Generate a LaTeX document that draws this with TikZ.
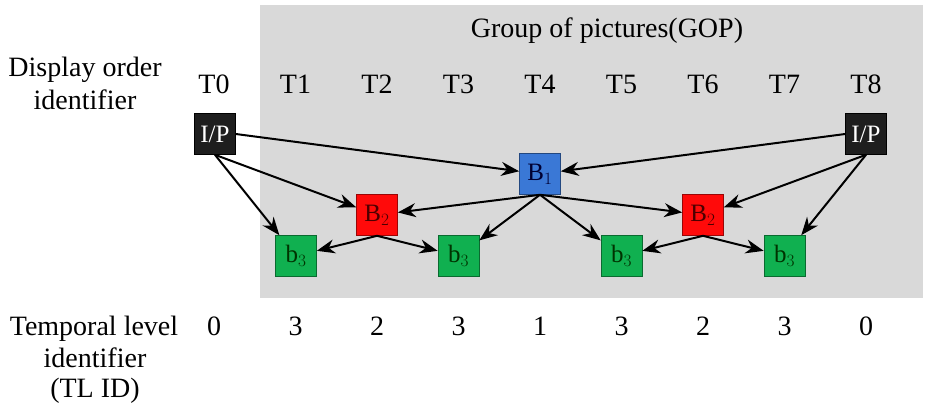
\documentclass[tikz,border=0pt]{standalone}
\usepackage{fontspec}
\setmainfont{Liberation Serif}
\usetikzlibrary{arrows.meta}
\definecolor{gopgray}{HTML}{D9D9D9}
\definecolor{ipblack}{HTML}{1E1E1E}
\definecolor{bblue}{HTML}{3A78D6}
\definecolor{bred}{HTML}{FF0A0A}
\definecolor{bgreen}{HTML}{10B050}
\tikzset{
  lbl/.style={anchor=base, inner sep=0pt, font=\rmfamily\fontsize{28}{32}\selectfont},
  frame/.style={minimum width=41pt, minimum height=41pt, inner sep=0pt, draw=#1!60!black, line width=0.6pt, font=\rmfamily\fontsize{25}{28}\selectfont},
  ipbox/.style={frame=ipblack, fill=ipblack, text=white, draw=black},
  bonebox/.style={frame=bblue, fill=bblue, text=black!80!blue},
  btwobox/.style={frame=bred, fill=bred, text=black!70!red},
  bthreebox/.style={frame=bgreen, fill=bgreen, text=black!80!green},
  arr/.style={-{Stealth[length=18pt,width=14pt]}, line width=2pt, black}
}
\begin{document}
\begin{tikzpicture}[x=1pt,y=-1pt]
\useasboundingbox (0,0) rectangle (927,420);
\fill[gopgray] (260,5) rectangle (923,298);
\node[lbl] (gop) at (607,38) {Group of pictures(GOP)};
\node[lbl] (dl1) at (85,77) {Display order};
\node[lbl] (dl2) at (85,110) {identifier};
\foreach \i/\x in {0/214,1/295.5,2/377,3/458.5,4/540,5/621.5,6/703,7/784.5,8/866}{
  \node[lbl] (t\i) at (\x,93) {T\i};
}
\node[lbl] (tl1) at (94,335) {Temporal level};
\node[lbl] (tl2) at (95,367) {identifier};
\node[lbl] (tl3) at (95,397) {(TL ID)};
\foreach \i/\x/\v in {0/214/0,1/295.5/3,2/377/2,3/458.5/3,4/540/1,5/621.5/3,6/703/2,7/784.5/3,8/866/0}{
  \node[lbl] (n\i) at (\x,335) {\v};
}
\node[ipbox] (ip0) at (215,134) {I/P};
\node[ipbox] (ip8) at (866,134) {I/P};
\node[bonebox] (b1) at (540,174) {B$_1$};
\node[btwobox] (b2a) at (377,215) {B$_2$};
\node[btwobox] (b2b) at (703,215) {B$_2$};
\node[bthreebox] (b3a) at (296,256) {b$_3$};
\node[bthreebox] (b3b) at (458.5,256) {b$_3$};
\node[bthreebox] (b3c) at (621.5,256) {b$_3$};
\node[bthreebox] (b3d) at (784.5,256) {b$_3$};
\draw[arr] (ip0.east) -- (b1);
\draw[arr] (ip8.west) -- (b1);
\draw[arr] (ip0.south) -- (b2a);
\draw[arr] (ip0.south) -- (b3a);
\draw[arr] (ip8.south) -- (b2b);
\draw[arr] (ip8.south) -- (b3d);
\draw[arr] (b1.south) -- (b2a);
\draw[arr] (b1.south) -- (b3b);
\draw[arr] (b1.south) -- (b3c);
\draw[arr] (b1.south) -- (b2b);
\draw[arr] (b2a.south) -- (b3a);
\draw[arr] (b2a.south) -- (b3b);
\draw[arr] (b2b.south) -- (b3c);
\draw[arr] (b2b.south) -- (b3d);
\end{tikzpicture}
\end{document}
